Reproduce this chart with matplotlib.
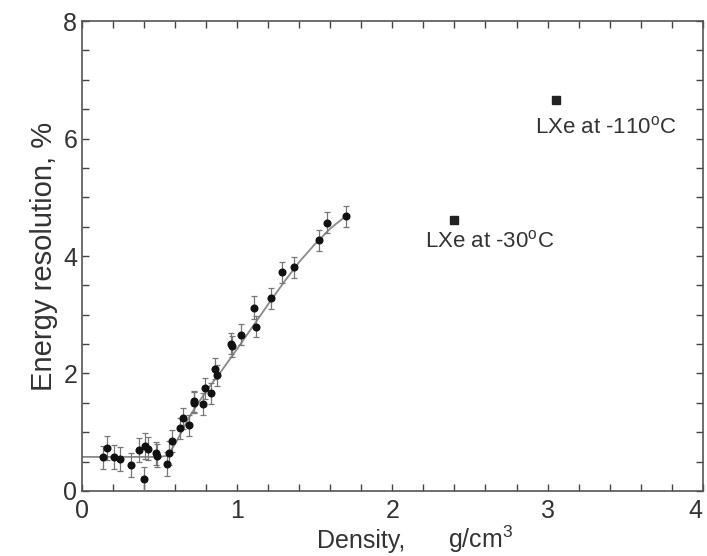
import matplotlib
matplotlib.use("Agg")
import matplotlib.pyplot as plt
from matplotlib.ticker import MultipleLocator

plt.rcParams['font.family'] = ['Liberation Sans', 'DejaVu Sans']
plt.rcParams['mathtext.fontset'] = 'custom'
plt.rcParams['mathtext.rm'] = 'Liberation Sans'
plt.rcParams['mathtext.it'] = 'Liberation Sans'

# measured points (density g/cm3, energy resolution %)
density = [0.137, 0.159, 0.206, 0.245, 0.316, 0.367, 0.397, 0.408, 0.423, 0.478,
           0.485, 0.547, 0.558, 0.580, 0.629, 0.653, 0.687, 0.720, 0.724, 0.782,
           0.795, 0.829, 0.855, 0.868, 0.960, 0.964, 1.026, 1.108, 1.121, 1.215,
           1.290, 1.367, 1.525, 1.578, 1.703]
resolution = [0.57, 0.73, 0.58, 0.54, 0.44, 0.70, 0.20, 0.77, 0.72, 0.64,
              0.60, 0.46, 0.65, 0.85, 1.07, 1.24, 1.12, 1.53, 1.50, 1.48,
              1.75, 1.66, 2.08, 1.97, 2.51, 2.46, 2.66, 3.12, 2.80, 3.28,
              3.72, 3.81, 4.27, 4.57, 4.68]
res_err = [0.20, 0.20, 0.20, 0.20, 0.20, 0.20, 0.20, 0.22, 0.20, 0.20,
           0.20, 0.20, 0.20, 0.18, 0.18, 0.18, 0.18, 0.18, 0.18, 0.18,
           0.18, 0.18, 0.18, 0.18, 0.18, 0.18, 0.18, 0.20, 0.18, 0.18,
           0.18, 0.18, 0.18, 0.18, 0.18]

# fitted curve
fit_density = [0.0, 0.50, 0.55, 0.60, 0.65, 0.70, 0.80, 0.90, 1.00, 1.10,
               1.20, 1.30, 1.40, 1.50, 1.60, 1.70]
fit_resolution = [0.58, 0.58, 0.60, 0.80, 1.05, 1.30, 1.70, 2.05, 2.42, 2.80,
                  3.18, 3.55, 3.90, 4.20, 4.47, 4.68]

# liquid xenon reference points
lxe_density = [2.396, 3.057]
lxe_resolution = [4.62, 6.655]
lxe_labels = ["LXe at -30$^{\\rm o}$C", "LXe at -110$^{\\rm o}$C"]
lxe_label_pos = [(2.21, 4.14), (2.92, 6.09)]

x_ticks = [0, 1, 2, 3, 4]
x_tick_labels = ["0", "1", "2", "3", "4"]

fig = plt.figure(figsize=(7.07, 5.56), dpi=100)
ax = fig.add_axes([0.116, 0.117, 0.878, 0.845])

ax.plot(fit_density, fit_resolution, color='#8a8a8a', lw=1.3, zorder=2)
ax.errorbar(density, resolution, yerr=res_err, fmt='o', color='#111111',
            markersize=4.8, ecolor='#777777', elinewidth=0.9, capsize=2,
            capthick=0.9, zorder=3)
ax.plot(lxe_density, lxe_resolution, 's', color='#222222', markersize=5.5, zorder=3)
for lbl, (tx, ty) in zip(lxe_labels, lxe_label_pos):
    ax.text(tx, ty, lbl, fontsize=16, color='#333333', ha='left', va='baseline')

ax.set_xlim(0, 4)
ax.set_ylim(0, 8)
ax.set_xticks(x_ticks)
ax.set_xticklabels(x_tick_labels)
ax.xaxis.set_minor_locator(MultipleLocator(0.2))
ax.yaxis.set_major_locator(MultipleLocator(2))
ax.yaxis.set_minor_locator(MultipleLocator(0.5))
ax.tick_params(which='both', direction='in', top=True, right=True,
               length=5, width=1.0, color='#444444', labelsize=18,
               labelcolor='#333333')
ax.tick_params(axis='x', pad=6)
ax.get_xticklabels()[-1].set_horizontalalignment('right')
for s in ax.spines.values():
    s.set_color('#555555')
    s.set_linewidth(1.2)

fig.text(317 / 707, (556 - 548) / 556, "Density,", fontsize=18, color='#333333',
         ha='left', va='baseline')
fig.text(448 / 707, (556 - 548) / 556, "g/cm$^{3}$", fontsize=18, color='#333333',
         ha='left', va='baseline')
ax.set_ylabel("Energy resolution, %", fontsize=21, color='#333333', labelpad=4)

fig.savefig("out.png", dpi=100)
